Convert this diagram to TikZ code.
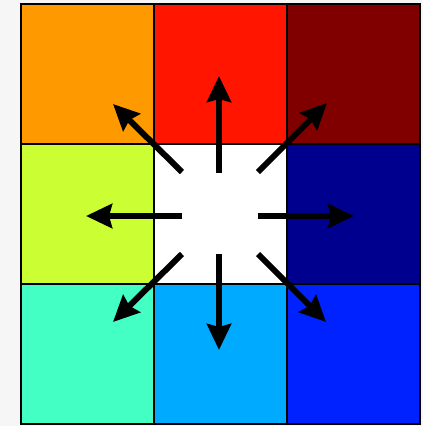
\documentclass[tikz,border=0pt]{standalone}
\usetikzlibrary{arrows.meta}
\definecolor{cOrange}{HTML}{FF9900}
\definecolor{cRed}{HTML}{FF1500}
\definecolor{cDarkRed}{HTML}{800000}
\definecolor{cLime}{HTML}{CCFF33}
\definecolor{cNavy}{HTML}{00008F}
\definecolor{cAqua}{HTML}{44FFC4}
\definecolor{cSky}{HTML}{00AAFF}
\definecolor{cBlue}{HTML}{0022FF}
\definecolor{cBg}{HTML}{F6F6F6}
\begin{document}
\begin{tikzpicture}[x=1pt,y=-1pt,
  cell/.style={draw=black,line width=2pt,minimum width=133pt,minimum height=140pt,inner sep=0pt,anchor=north west},
  ray/.style={line width=6pt,-{Stealth[length=26pt,width=24pt,inset=3pt]}}]
\fill[cBg] (0,0) rectangle (423,426);
\useasboundingbox (0,0) rectangle (423,426);
\node[cell,fill=cOrange]  (nw) at (20,3) {};
\node[cell,fill=cRed]     (n)  at (153,3) {};
\node[cell,fill=cDarkRed] (ne) at (286,3) {};
\node[cell,fill=cLime]    (w)  at (20,143) {};
\node[cell,fill=white]    (c)  at (153,143) {};
\node[cell,fill=cNavy]    (e)  at (286,143) {};
\node[cell,fill=cAqua]    (sw) at (20,283) {};
\node[cell,fill=cSky]     (s)  at (153,283) {};
\node[cell,fill=cBlue]    (se) at (286,283) {};
% start points in the white cell
\coordinate (sN)  at (219,173);
\coordinate (sS)  at (219,254);
\coordinate (sW)  at (182,216);
\coordinate (sE)  at (258,216);
\coordinate (sNW) at (182,172);
\coordinate (sNE) at (258,172);
\coordinate (sSW) at (182,254);
\coordinate (sSE) at (258,254);
% tips
\coordinate (tN)  at (219,76);
\coordinate (tS)  at (219,350);
\coordinate (tW)  at (86,216);
\coordinate (tE)  at (354,216);
\coordinate (tNW) at (113,104);
\coordinate (tNE) at (327,103);
\coordinate (tSW) at (113,322);
\coordinate (tSE) at (326,322);
\draw[ray] (sN) -- (tN);
\draw[ray] (sS) -- (tS);
\draw[ray] (sW) -- (tW);
\draw[ray] (sE) -- (tE);
\draw[ray] (sNW) -- (tNW);
\draw[ray] (sNE) -- (tNE);
\draw[ray] (sSW) -- (tSW);
\draw[ray] (sSE) -- (tSE);
\end{tikzpicture}
\end{document}
